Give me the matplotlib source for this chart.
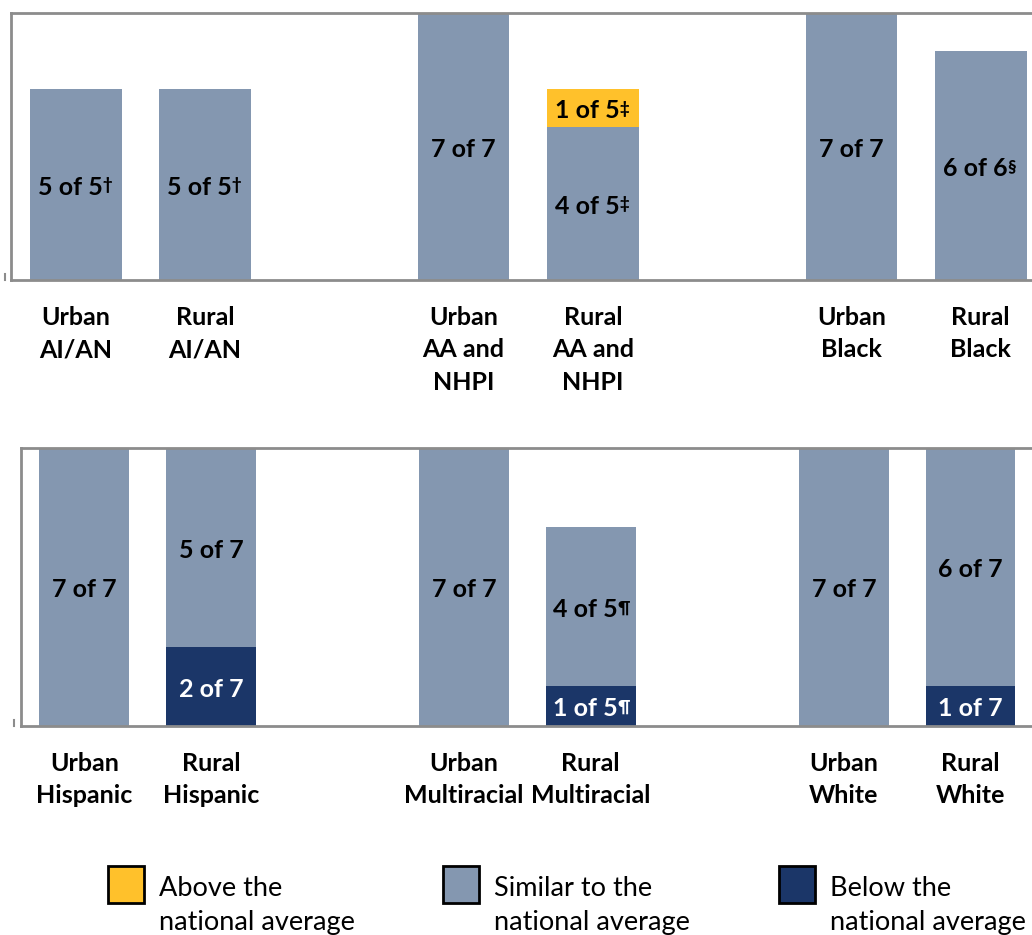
import matplotlib.pyplot as plt
from matplotlib.patches import Rectangle
import matplotlib.transforms as mtransforms

plt.rcParams['font.family'] = ['Lato', 'DejaVu Sans']

# data
positions = [0, 1, 3, 4, 6, 7]

top_labels = ["Urban\nAI/AN", "Rural\nAI/AN", "Urban\nAA and\nNHPI", "Rural\nAA and\nNHPI",
              "Urban\nBlack", "Rural\nBlack"]
top_below = [0, 0, 0, 0, 0, 0]
top_similar = [5, 5, 7, 4, 7, 6]
top_above = [0, 0, 0, 1, 0, 0]
top_marks = ["†", "†", "", "‡", "", "§"]

bot_labels = ["Urban\nHispanic", "Rural\nHispanic", "Urban\nMultiracial", "Rural\nMultiracial",
              "Urban\nWhite", "Rural\nWhite"]
bot_below = [0, 2, 0, 1, 0, 1]
bot_similar = [7, 5, 7, 4, 7, 6]
bot_above = [0, 0, 0, 0, 0, 0]
bot_marks = ["", "", "", "¶", "", ""]

c_above = '#FFC12B'
c_similar = '#8497B0'
c_below = '#1B3668'
spine_c = '#8C8C8C'

W, H = 1032, 935
fig = plt.figure(figsize=(W / 100, H / 100), dpi=100)


def px_axes(left, top, bottom, unit):
    # axes placed in pixel coords, x range -0.5..7.5
    width = 8 * unit
    return fig.add_axes([left / W, 1 - bottom / H, width / W, (bottom - top) / H])


def draw_panel(ax, labels, below, similar, above, marks):
    bar_w = 0.71
    ax.bar(positions, below, bar_w, color=c_below)
    ax.bar(positions, similar, bar_w, bottom=below, color=c_similar)
    base2 = [b + s for b, s in zip(below, similar)]
    ax.bar(positions, above, bar_w, bottom=base2, color=c_above)
    ax.set_xlim(-0.5, 7.5)
    ax.set_ylim(0, 7)
    ax.set_yticks([])
    ax.set_xticks(positions, labels, fontsize=18, fontweight='bold', linespacing=1.5)
    ax.tick_params(axis='x', length=0, pad=18.5)
    for s in ['top', 'left', 'bottom']:
        ax.spines[s].set_color(spine_c)
        ax.spines[s].set_linewidth(2)
    ax.spines['right'].set_visible(False)

    for x, b, s, a, m in zip(positions, below, similar, above, marks):
        total = b + s + a
        shift = mtransforms.offset_copy(ax.transData, fig=fig, x=-4 if m else 0, y=-2, units='points')
        for val, base, col in [(b, 0, 'white'), (s, b, 'black'), (a, b + s, 'black')]:
            if val == 0:
                continue
            t = ax.text(x, base + val / 2, f"{val} of {total}", ha='center', va='center',
                        fontsize=18, fontweight='bold', color=col, transform=shift)
            if m:
                ax.annotate(m, xy=(1, 1), xycoords=t, xytext=(0, -1), textcoords='offset points',
                            ha='left', va='top', fontsize=12, fontweight='black', color=col)


ax1 = px_axes(11, 12.5, 280, 129.3)
draw_panel(ax1, top_labels, top_below, top_similar, top_above, top_marks)

ax2 = px_axes(21, 448, 726, 126.6)
draw_panel(ax2, bot_labels, bot_below, bot_similar, bot_above, bot_marks)

# legend drawn in pixel space
lg = fig.add_axes([0, 0, 1, 1])
lg.set_xlim(0, W)
lg.set_ylim(H, 0)
lg.axis('off')
legend_items = [(108, c_above, "Above the\nnational average"),
                (443, c_similar, "Similar to the\nnational average"),
                (779, c_below, "Below the\nnational average")]
for x0, col, txt in legend_items:
    lg.add_patch(Rectangle((x0, 866), 36, 37, facecolor=col, edgecolor='black', linewidth=2))
    lg.text(x0 + 51, 876, txt, ha='left', va='top', fontsize=19.5, linespacing=1.45)

# small stray tick marks at the left of each panel
lg.plot([5, 5], [274, 280], color=spine_c, lw=1.5)
lg.plot([14, 14], [720, 726], color=spine_c, lw=1.5)

fig.savefig('out.png', dpi=100)
